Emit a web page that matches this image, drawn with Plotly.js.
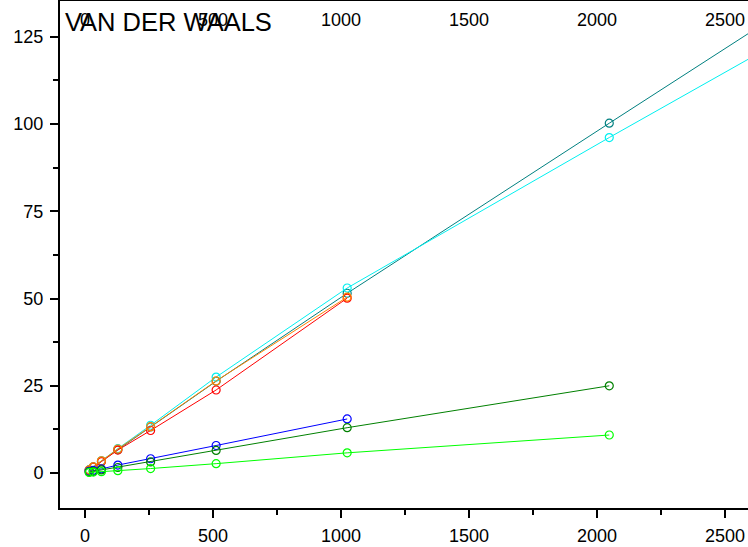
<!DOCTYPE html>
<html>
<head>
<meta charset="utf-8">
<script src="https://cdn.plot.ly/plotly-3.0.1.min.js"></script>
<style>html,body{margin:0;padding:0;background:#fff;}#chart{width:748px;height:547px;}</style>
</head>
<body>
<div id="chart"></div>
<script>
// x sizes (powers of two)
const xLong = [16, 32, 64, 128, 256, 512, 1024, 2048, 4096];
const xMid = [16, 32, 64, 128, 256, 512, 1024, 2048];
const xShort = [16, 32, 64, 128, 256, 512, 1024];

const tealVals = [0.9, 1.7, 3.4, 6.7, 13.2, 26.3, 51.5, 100.2, 197.0];
const cyanVals = [0.9, 1.8, 3.5, 7.0, 13.7, 27.5, 53.0, 96.1, 180.7];
const orangeVals = [0.9, 1.8, 3.5, 6.9, 13.3, 26.4, 50.4];
const redVals = [0.8, 1.7, 3.3, 6.6, 12.2, 23.8, 50.1];
const blueVals = [0.5, 0.8, 1.2, 2.3, 4.1, 7.9, 15.5];
const dgreenVals = [0.3, 0.5, 0.9, 1.6, 3.2, 6.5, 13.0, 25.0];
const limeVals = [0.2, 0.3, 0.4, 0.7, 1.3, 2.7, 5.8, 10.9];

const xTicks = [0, 500, 1000, 1500, 2000, 2500];
const yTicks = [0, 25, 50, 75, 100, 125];

function series(x, y, color) {
  return {
    x: x, y: y, type: 'scatter', mode: 'lines+markers',
    line: {color: color, width: 1},
    marker: {symbol: 'circle-open', size: 8, color: color, line: {width: 1.2, color: color}},
    showlegend: false, hoverinfo: 'skip'
  };
}

const data = [
  series(xLong, tealVals, '#008080'),
  series(xLong, cyanVals, '#00F0F0'),
  series(xShort, redVals, '#FF0000'),
  series(xShort, orangeVals, '#FF8000'),
  series(xShort, blueVals, '#0000FF'),
  series(xMid, dgreenVals, '#008000'),
  series(xMid, limeVals, '#00FF00'),
  {x: [0], y: [0], xaxis: 'x2', mode: 'markers', marker: {opacity: 0}, showlegend: false, hoverinfo: 'skip'}
];

const tickFont = {family: 'Liberation Sans, Arial, sans-serif', size: 18, color: '#000'};

const layout = {
  width: 748, height: 547,
  margin: {l: 60, r: 0, t: 1, b: 39, pad: 0},
  paper_bgcolor: '#fff', plot_bgcolor: '#fff',
  showlegend: false,
  title: {
    text: 'VAN DER WAALS',
    font: {family: 'Liberation Sans, Arial, sans-serif', size: 25.5, color: '#000'},
    xref: 'container', yref: 'container',
    x: 65/748, xanchor: 'left', y: 1 - 22.5/547, yanchor: 'middle'
  },
  xaxis: {
    range: [-98, 2590], tickvals: xTicks, ticktext: xTicks.map(String),
    showgrid: false, zeroline: false,
    showline: true, linecolor: '#000', linewidth: 2,
    ticks: 'outside', ticklen: 8, tickwidth: 2, tickcolor: '#000',
    ticklabelstandoff: 2,
    minor: {dtick: 250, tick0: 0, ticks: 'outside', ticklen: 5, tickwidth: 2, tickcolor: '#000', showgrid: false},
    tickfont: tickFont
  },
  xaxis2: {
    overlaying: 'x', side: 'top', matches: 'x', anchor: 'y',
    range: [-98, 2590], tickvals: xTicks, ticktext: xTicks.map(String),
    showgrid: false, zeroline: false,
    showline: true, linecolor: '#000', linewidth: 2,
    ticks: 'outside', ticklen: 5, tickwidth: 2, tickcolor: '#000',
    ticklabelposition: 'inside', ticklabelstandoff: 13,
    tickfont: tickFont
  },
  yaxis: {
    range: [-10, 135.2], tickvals: yTicks, ticktext: yTicks.map(String),
    showgrid: false, zeroline: false,
    showline: true, linecolor: '#000', linewidth: 2,
    ticks: 'outside', ticklen: 8, tickwidth: 2, tickcolor: '#000',
    ticklabelstandoff: 3,
    minor: {dtick: 12.5, tick0: 0, ticks: 'outside', ticklen: 5, tickwidth: 2, tickcolor: '#000', showgrid: false},
    tickfont: tickFont
  }
};

Plotly.newPlot('chart', data, layout, {displayModeBar: false, staticPlot: true});
</script>
</body>
</html>
